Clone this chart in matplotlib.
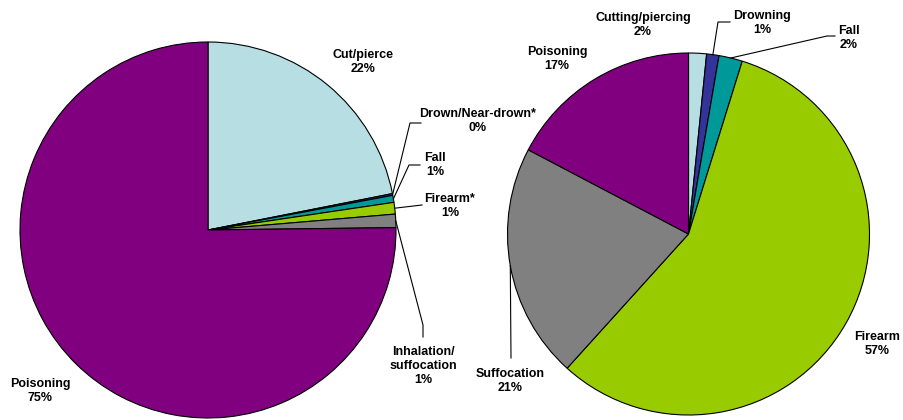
import numpy as np
import matplotlib.pyplot as plt

plt.rcParams['font.family'] = ['Liberation Sans', 'DejaVu Sans']

# left pie
left_labels = ["Cut/pierce", "Drown/Near-drown*", "Fall", "Firearm*", "Inhalation/\nsuffocation", "Poisoning"]
left_pct = [21.9, 0.15, 0.6, 1.0, 1.15, 75.2]
left_shown = ["22%", "0%", "1%", "1%", "1%", "75%"]
left_colors = ["#B7DEE3", "#333399", "#009999", "#99CC00", "#808080", "#800080"]

# right pie
right_labels = ["Cutting/piercing", "Drowning", "Fall", "Firearm", "Suffocation", "Poisoning"]
right_pct = [1.6, 1.1, 2.1, 56.9, 21.0, 17.3]
right_shown = ["2%", "1%", "2%", "57%", "21%", "17%"]
right_colors = ["#B7DEE3", "#333399", "#009999", "#99CC00", "#808080", "#800080"]

W, H = 904, 420
fig = plt.figure(figsize=(W / 100, H / 100), dpi=100)
ax = fig.add_axes([0, 0, 1, 1])
ax.set_xlim(0, W)
ax.set_ylim(0, H)
ax.set_aspect('equal')
ax.axis('off')


def p(x, y):
    # image pixel coords -> axes coords
    return x, H - y


lc, lr = p(208, 230), 188
rc, rr = p(688.5, 234), 181

wl, _ = ax.pie(left_pct, colors=left_colors, startangle=90, counterclock=False,
               center=lc, radius=lr, frame=True,
               wedgeprops=dict(edgecolor='black', linewidth=0.8))
wr, _ = ax.pie(right_pct, colors=right_colors, startangle=90, counterclock=False,
               center=rc, radius=rr, frame=True,
               wedgeprops=dict(edgecolor='black', linewidth=0.8))
ax.set_xlim(0, W)
ax.set_ylim(0, H)
ax.axis('off')


def edge_pt(w, frac=0.5):
    a = np.deg2rad(w.theta1 + (w.theta2 - w.theta1) * frac)
    return w.center[0] + w.r * np.cos(a), w.center[1] + w.r * np.sin(a)


def lab(txt, pct, x, y):
    ax.text(*p(x, y), txt + "\n" + pct, ha='center', va='center',
            fontsize=9, fontweight='bold', linespacing=1.25)


def leader(w, pts, frac=0.5):
    xs, ys = zip(edge_pt(w, frac), *[p(*q) for q in pts])
    ax.plot(xs, ys, color='black', lw=0.8)


# left labels
lab(left_labels[0], left_shown[0], 363, 62)
lab(left_labels[1], left_shown[1], 478, 121)
leader(wl[1], [(410, 123), (421, 123)])
lab(left_labels[2], left_shown[2], 435, 165)
leader(wl[2], [(409, 165), (420, 165)])
lab(left_labels[3], left_shown[3], 450, 206)
leader(wl[3], [(422, 205)])
ax.text(*p(423, 366), left_labels[4] + "\n" + left_shown[4], ha='center', va='center',
        fontsize=9, fontweight='bold', linespacing=1.25)
leader(wl[4], [(423, 325), (423, 337)])
lab(left_labels[5], left_shown[5], 40, 391)

# right labels
lab(right_labels[0], right_shown[0], 643, 25)
lab(right_labels[1], right_shown[1], 762, 23)
leader(wr[1], [(718, 22), (730, 22)])
lab(right_labels[2], right_shown[2], 849, 38)
leader(wr[2], [(827, 36), (835, 36)])
lab(right_labels[3], right_shown[3], 877, 344)
lab(right_labels[4], right_shown[4], 510, 381)
leader(wr[4], [(511, 358)])
lab(right_labels[5], right_shown[5], 557, 59)

fig.savefig("out.png", dpi=100)
